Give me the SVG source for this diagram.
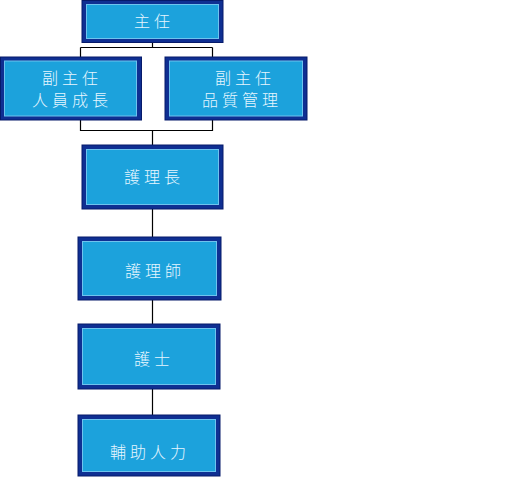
<svg xmlns="http://www.w3.org/2000/svg" width="512" height="480" viewBox="0 0 512 480">
<style>
.frame{fill:#0f2f92;stroke:#061a6a;stroke-width:1}
.inner{fill:#1ca2dc;stroke:#6ec3ee;stroke-width:1}
.lbl{font-family:"Noto Sans CJK TC","Noto Sans CJK SC",sans-serif;font-size:16px;font-weight:300;fill:#e6f6ff;text-anchor:middle;letter-spacing:4px}
.conn{fill:none;stroke:#000;stroke-width:1.2}
</style>
<rect width="512" height="480" fill="#fff"/>
<g id="connectors">
<path class="conn" d="M152.5,43 V47.5 M80.5,47.5 H212.5 M80.5,47.5 V57 M212.5,47.5 V57"/>
<path class="conn" d="M80.5,120 V130.5 H212.5 V120 M152.5,130.5 V145"/>
<path class="conn" d="M152.5,209 V237 M152.5,300 V324 M152.5,389 V415"/>
</g>
<g id="n1">
<rect class="frame" x="82" y="0.5" width="141" height="42"/>
<rect class="inner" x="86.5" y="4.5" width="132" height="34"/>
<text class="lbl" x="154" y="27">主任</text>
</g>
<g id="n2">
<rect class="frame" x="0.5" y="57" width="141" height="63"/>
<rect class="inner" x="4.5" y="61" width="132" height="55"/>
<text class="lbl" x="72" y="84">副主任</text>
<text class="lbl" x="72" y="106">人員成長</text>
</g>
<g id="n3">
<rect class="frame" x="165" y="57" width="142" height="63"/>
<rect class="inner" x="169.5" y="61" width="133" height="55"/>
<text class="lbl" x="245" y="84">副主任</text>
<text class="lbl" x="242" y="106">品質管理</text>
</g>
<g id="n4">
<rect class="frame" x="82" y="145" width="141" height="64"/>
<rect class="inner" x="86.5" y="149.5" width="132" height="55"/>
<text class="lbl" x="154" y="183">護理長</text>
</g>
<g id="n5">
<rect class="frame" x="78" y="237" width="143" height="63"/>
<rect class="inner" x="82.5" y="241.5" width="134" height="54"/>
<text class="lbl" x="155" y="277">護理師</text>
</g>
<g id="n6">
<rect class="frame" x="78" y="324" width="142" height="65"/>
<rect class="inner" x="82.5" y="328.5" width="133" height="56"/>
<text class="lbl" x="154" y="365">護士</text>
</g>
<g id="n7">
<rect class="frame" x="78" y="415" width="142" height="61"/>
<rect class="inner" x="82.5" y="419.5" width="133" height="52"/>
<text class="lbl" x="150" y="458">輔助人力</text>
</g>
</svg>
